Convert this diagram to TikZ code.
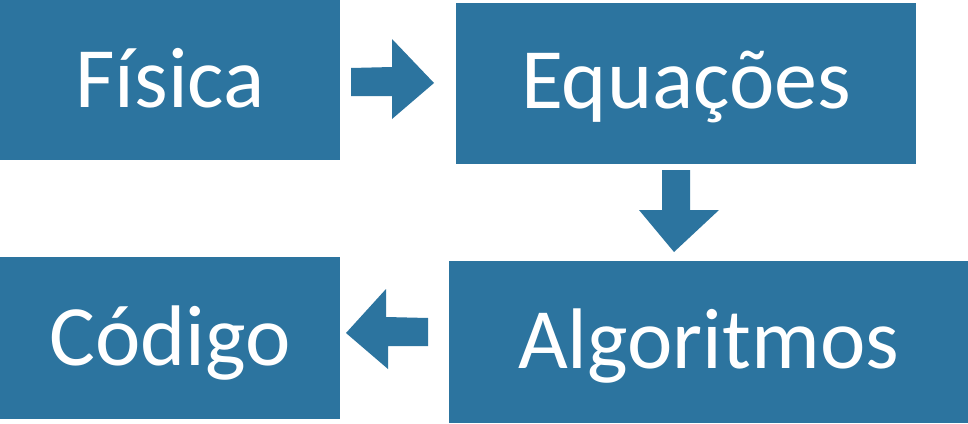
\documentclass[tikz,border=0pt]{standalone}
\usepackage{fontspec}
\setmainfont{Carlito}
\definecolor{boxblue}{RGB}{44,116,159}
\begin{document}
\begin{tikzpicture}[x=1pt,y=-1pt,
  box/.style={fill=boxblue,draw=none,inner sep=0pt,rectangle},
  lbl/.style={text=white,anchor=base,inner sep=0pt,font=\fontsize{86}{100}\selectfont},
  blockarrow/.style={fill=boxblue,draw=none}]
\useasboundingbox (0,0) rectangle (968,423);
\fill[white] (0,0) rectangle (968,423);
\node[box,minimum width=340pt,minimum height=160pt] (fis) at (170,80) {};
\node[box,minimum width=460pt,minimum height=161pt] (equ) at (686,83) {};
\node[box,minimum width=519pt,minimum height=162pt] (alg) at (708.5,342) {};
\node[box,minimum width=340pt,minimum height=162pt] (cod) at (170,338) {};
\node[lbl] (tfis) at ([yshift=-27pt]fis.center) {Física};
\node[lbl] (tequ) at ([yshift=-25pt]equ.center) {Equações};
\node[lbl] (talg) at ([yshift=-26pt]alg.center) {Algoritmos};
\node[lbl] (tcod) at ([yshift=-27pt]cod.center) {Código};
\fill[blockarrow] (351,68) -- (392,67) -- (392,39) -- (434,83) -- (392,119) -- (392,96) -- (351,96) -- cycle;
\fill[blockarrow] (662,170) -- (690,170) -- (690,210) -- (719,210) -- (674,252) -- (639,210) -- (662,210) -- cycle;
\fill[blockarrow] (428,318) -- (386,317) -- (386,289) -- (346,333) -- (388,369) -- (388,346) -- (428,346) -- cycle;
\end{tikzpicture}
\end{document}
